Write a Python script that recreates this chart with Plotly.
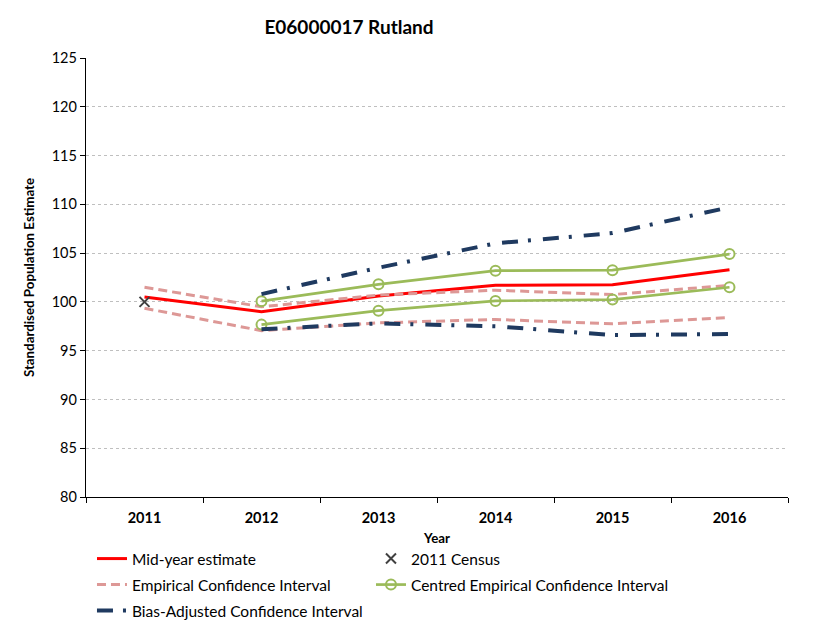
import plotly.graph_objects as go

years = ["2011", "2012", "2013", "2014", "2015", "2016"]
mid_year = [100.5, 99.0, 100.6, 101.7, 101.75, 103.3]
census = [100.0, None, None, None, None, None]
emp_upper = [101.5, 99.5, 100.7, 101.2, 100.75, 101.7]
emp_lower = [99.35, 97.05, 97.85, 98.2, 97.75, 98.4]
cen_upper = [None, 100.07, 101.8, 103.2, 103.25, 104.9]
cen_lower = [None, 97.67, 99.1, 100.1, 100.24, 101.5]
bias_upper = [None, 100.8, 103.5, 106.0, 107.05, 109.7]
bias_lower = [None, 97.2, 97.8, 97.5, 96.6, 96.7]

FONT = "Lato"
RED = "#ff0000"
PINK = "#dd9896"
GREEN = "#9bbb59"
NAVY = "#1f3a60"

fig = go.Figure()

fig.add_trace(go.Scatter(x=years, y=mid_year, mode="lines", name="Mid-year estimate",
                         line=dict(color=RED, width=3), legend="legend"))
fig.add_trace(go.Scatter(x=years, y=census, mode="markers", name="2011 Census",
                         marker=dict(symbol="x-thin", size=10, line=dict(color="#404040", width=2)),
                         legend="legend2"))
fig.add_trace(go.Scatter(x=years, y=emp_upper, mode="lines", name="Empirical Confidence Interval",
                         line=dict(color=PINK, width=3, dash="9px,5px"), legend="legend3"))
fig.add_trace(go.Scatter(x=years, y=emp_lower, mode="lines", name="Empirical Confidence Interval",
                         line=dict(color=PINK, width=3, dash="9px,5px"), showlegend=False))
fig.add_trace(go.Scatter(x=years, y=cen_upper, mode="lines+markers", name="Centred Empirical Confidence Interval",
                         line=dict(color=GREEN, width=2.7),
                         marker=dict(symbol="circle-open", size=10, color=GREEN, line=dict(width=2)),
                         legend="legend4"))
fig.add_trace(go.Scatter(x=years, y=cen_lower, mode="lines+markers", name="Centred Empirical Confidence Interval",
                         line=dict(color=GREEN, width=2.7),
                         marker=dict(symbol="circle-open", size=10, color=GREEN, line=dict(width=2)),
                         showlegend=False))
fig.add_trace(go.Scatter(x=years, y=bias_upper, mode="lines", name="Bias-Adjusted Confidence Interval",
                         line=dict(color=NAVY, width=4, dash="16px,10px,3px,12px"), legend="legend5"))
fig.add_trace(go.Scatter(x=years, y=bias_lower, mode="lines", name="Bias-Adjusted Confidence Interval",
                         line=dict(color=NAVY, width=4, dash="16px,10px,3px,12px"), showlegend=False))

legend_font = dict(family=FONT, size=15.5, color="#000000")
def leg(x, y):
    return dict(x=x, y=y, xref="paper", yref="paper", xanchor="left", yanchor="middle",
                font=legend_font, bgcolor="rgba(0,0,0,0)", borderwidth=0)

col1 = (99 - 86) / 702 - 0.01
col2 = (378 - 86) / 702 - 0.01
r1, r2, r3 = (497 - 559) / 439, (497 - 585) / 439, (497 - 611) / 439

OFF = 8  # page body margin
fig.update_layout(
    width=831, height=631,
    margin=dict(l=86 - OFF, r=43 + OFF, t=58 - OFF, b=134 + OFF, autoexpand=False),
    paper_bgcolor="white", plot_bgcolor="white",
    font=dict(family=FONT, size=14.5, color="#000000"),
    title=dict(text="<b>E06000017 Rutland</b>", x=(349 - 86) / 702, xref="paper",
               xanchor="center", y=1 - (27 - OFF) / 631, yref="container", yanchor="middle",
               font=dict(family=FONT, size=19, color="#000000")),
    legend=leg(col1, r1), legend2=leg(col2, r1), legend3=leg(col1, r2),
    legend4=leg(col2, r2), legend5=leg(col1, r3),
    showlegend=True,
    xaxis=dict(type="category", showline=True, linecolor="#000000", linewidth=1.3,
               ticks="outside", ticklen=5, tickcolor="#000000", tickson="boundaries",
               ticklabelstandoff=7, automargin=False,
               showgrid=False, tickfont=dict(family=FONT, size=14.5, color="#000000", weight="bold"),
               title=dict(text="<b>Year</b>", font=dict(family=FONT, size=13.3), standoff=9),
               range=[-0.5, 5.5], zeroline=False),
    yaxis=dict(range=[80, 125], dtick=5, showline=True, linecolor="#000000", linewidth=1.3,
               ticks="outside", ticklen=5, tickcolor="#000000", automargin=False,
               showgrid=True, gridcolor="#bfbfbf", griddash="3px,3px", gridwidth=1,
               tickfont=dict(family=FONT, size=14.5, color="#000000"),
               title=dict(text="<b>Standardised Population Estimate</b>",
                          font=dict(family=FONT, size=13.3), standoff=14),
               zeroline=False),
)

fig.write_html("out.html")
